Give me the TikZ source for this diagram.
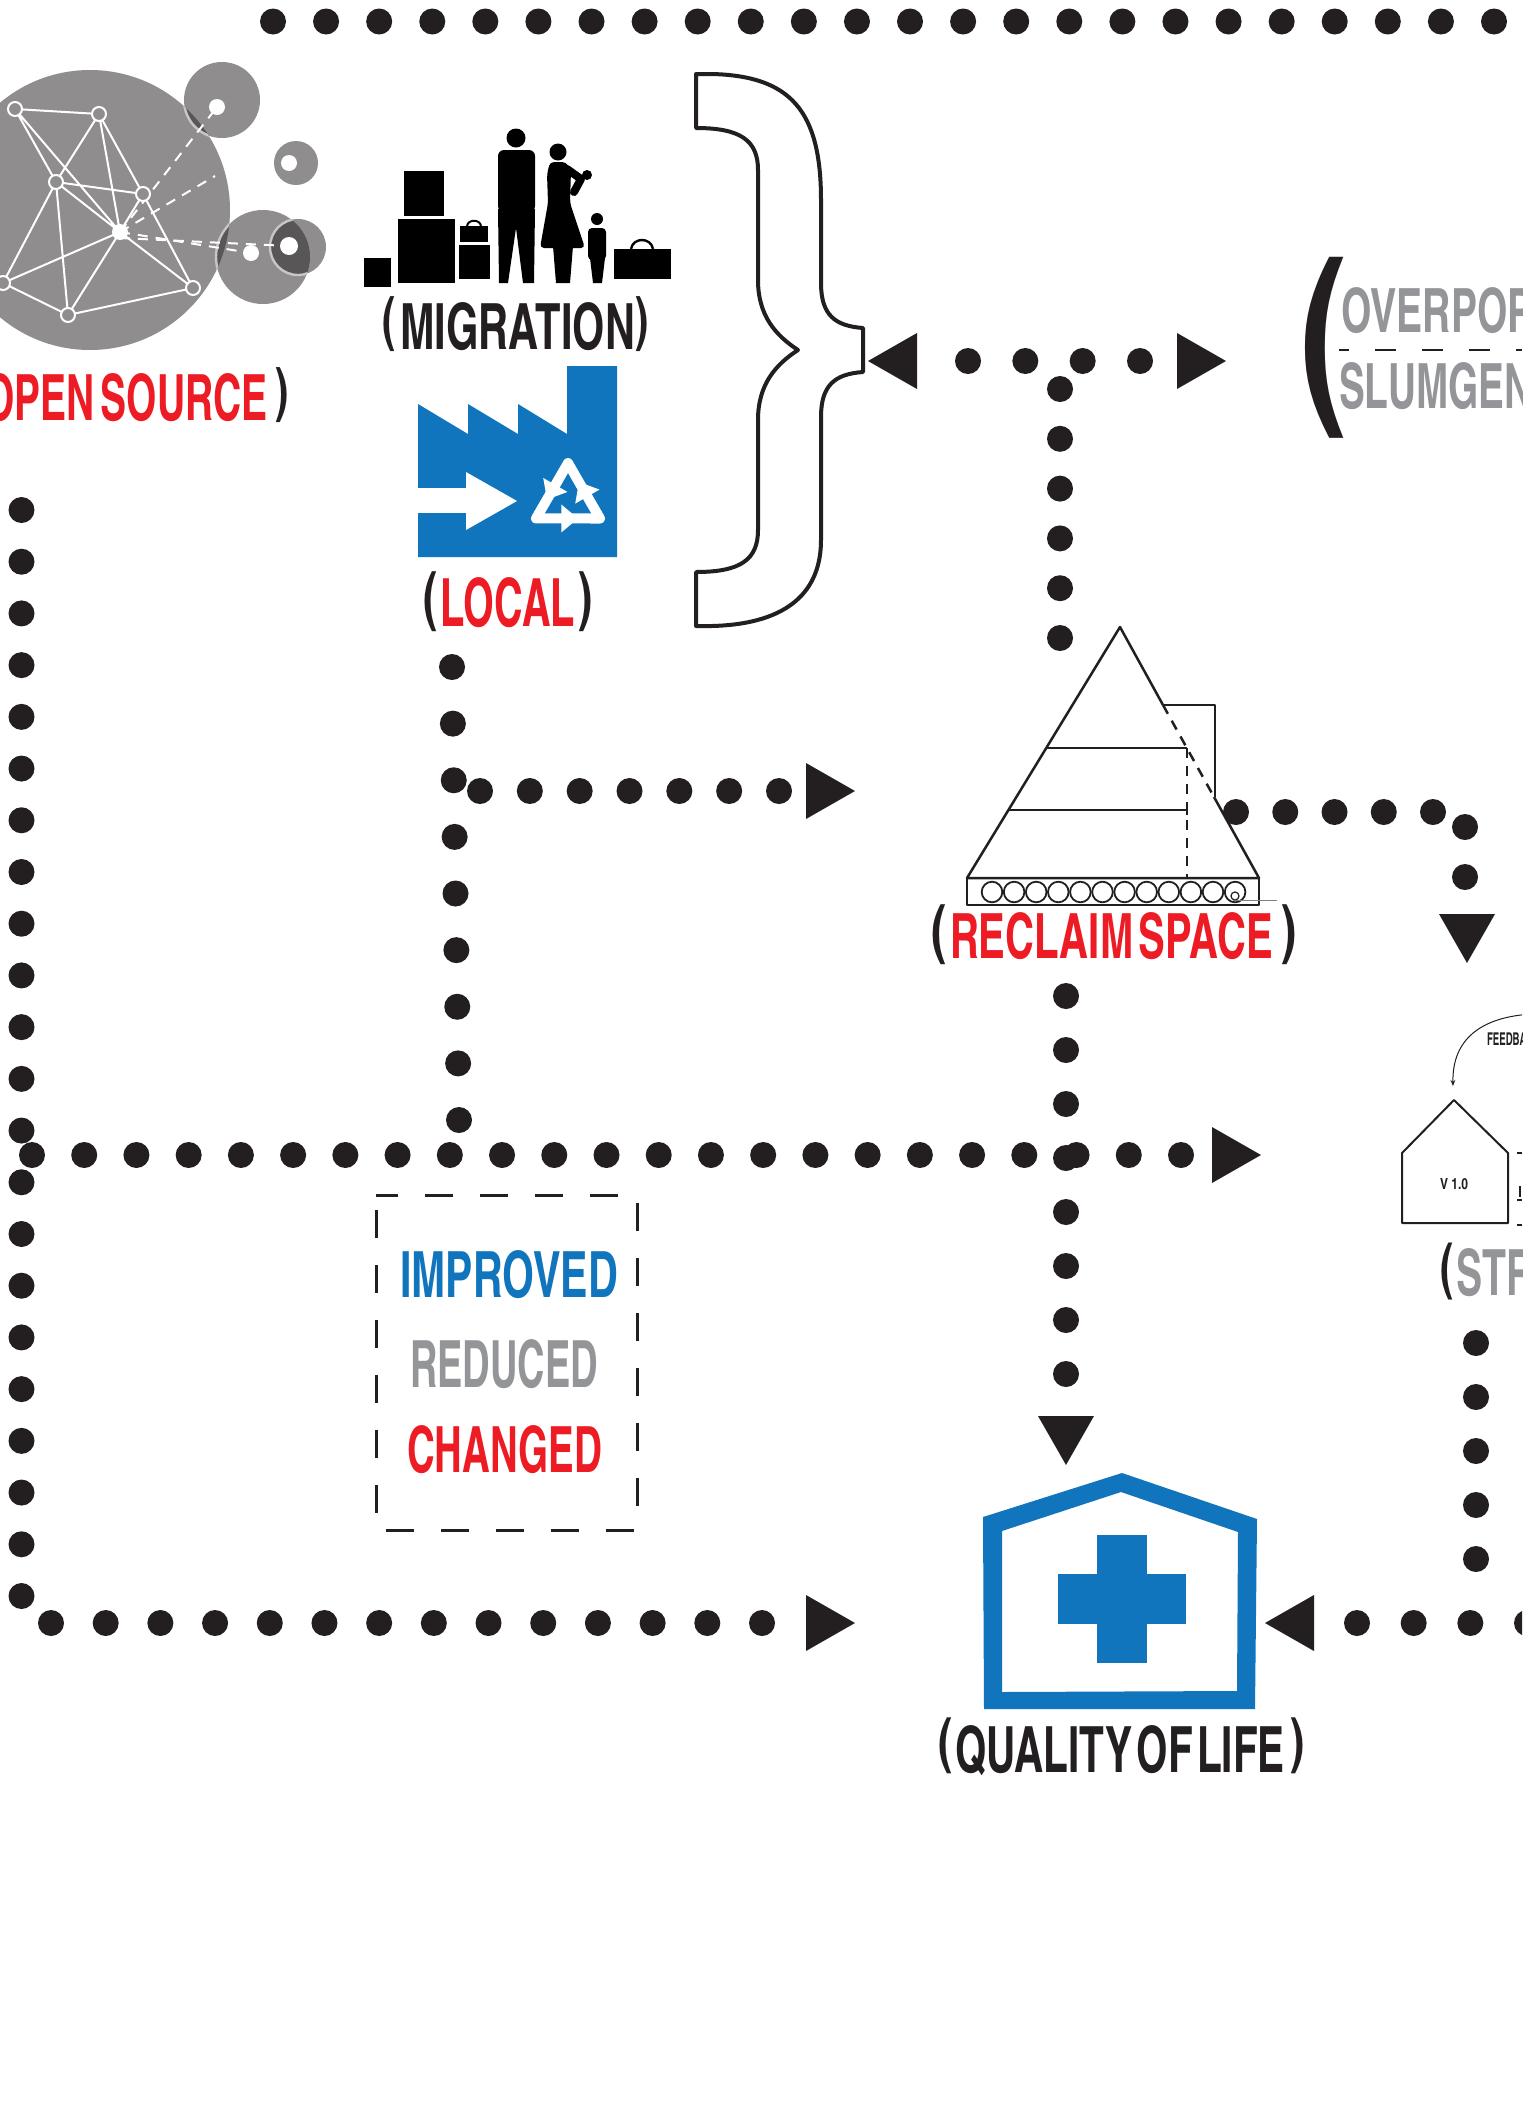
\documentclass[tikz,border=0pt]{standalone}
\usepackage{fontspec}
\usepackage{graphicx}
\usetikzlibrary{calc,arrows.meta}
\newfontfamily\cond{texgyreheroscn-bold.otf}
\definecolor{ink}{RGB}{35,31,32}
\definecolor{redA}{RGB}{237,28,36}
\definecolor{blueA}{RGB}{16,117,188}
\definecolor{greyA}{RGB}{147,149,152}
\definecolor{netgrey}{RGB}{143,141,142}
\definecolor{netdark}{RGB}{88,86,87}
\definecolor{netring}{RGB}{200,199,200}
\newlength\pxu \setlength\pxu{0.5pt}
% word scaled to a width and a cap height (in px)
\newcommand\fitw[3]{\resizebox{#1\pxu}{#2\pxu}{\cond #3}}
% glyph scaled to a width and a total height (in px)
\newcommand\fitp[3]{\resizebox*{#1\pxu}{#2\pxu}{\cond #3}}
% row of round dots between two named coordinates
\newcommand\dotchain[3]{\foreach \k in {0,...,#3}{\fill[ink] ($(#1)!\k/#3!(#2)$) circle (13);}}
% triangular arrow tips, given the tip point
\newcommand\tipR[1]{\fill[ink] (#1) -- ++(-49,-28) -- ++(0,56) -- cycle;}
\newcommand\tipL[1]{\fill[ink] (#1) -- ++(49,-28) -- ++(0,56) -- cycle;}
\newcommand\tipD[1]{\fill[ink] (#1) -- ++(-28,-49) -- ++(56,0) -- cycle;}
\tikzset{
  txt/.style={inner sep=0pt, outer sep=0pt},
  netline/.style={white, line width=1pt},
  netdash/.style={white, line width=1pt, dash pattern=on 5pt off 4pt},
  thinink/.style={ink, line width=1.25pt},
}
\begin{document}
\begin{tikzpicture}[x=0.5pt, y=-0.5pt, line join=round]
\useasboundingbox (0,0) rectangle (1522,2110);
\fill[white] (0,0) rectangle (1522,2110);
\clip (0,0) rectangle (1522,2110);

% ---------- open source network ----------
\coordinate (cBig) at (90,210);
\coordinate (cTR) at (222,100);
\coordinate (cMR) at (296,163);
\coordinate (cBR) at (263,257);
\coordinate (cBS) at (298,247);
\fill[netgrey] (cBig) circle (140);
\fill[netgrey] (cTR) circle (38);
\fill[netgrey] (cMR) circle (22);
\fill[netgrey] (cBR) circle (47);
\fill[netgrey] (cBS) circle (28);
\begin{scope}
  \clip (cBig) circle (140);
  \fill[netdark] (cTR) circle (38);
  \fill[netdark] (cBR) circle (47);
\end{scope}
\begin{scope}
  \clip (cBR) circle (47);
  \fill[netdark] (cBS) circle (28);
\end{scope}
\begin{scope}
  \clip (cBig) circle (140);
  \draw[netring, line width=1.2pt] (cTR) circle (38) (cBR) circle (47);
\end{scope}
\begin{scope}
  \clip (cBR) circle (47);
  \draw[netring, line width=1.2pt] (cBS) circle (28);
\end{scope}
\coordinate (nA) at (15,109);
\coordinate (nB) at (99,114);
\coordinate (nC) at (56,182);
\coordinate (nD) at (143,194);
\coordinate (nE) at (120,232);
\coordinate (nF) at (3,283);
\coordinate (nG) at (68,315);
\coordinate (nH) at (193,288);
\coordinate (dTop) at (217,107);
\coordinate (dMid) at (289,163);
\coordinate (dMidEnd) at (215,176);
\coordinate (dLow1) at (251,253);
\coordinate (dLow2) at (289,246);
\draw[netdash] (nE) -- (dTop);
\draw[netdash] (nE) -- (dMidEnd);
\draw[netdash] (nE) -- (dLow1);
\draw[netdash] ([yshift=-3]nE) -- (dLow2);
\draw[netline] (nA)--(nB) (nA)--(nC) (nA)--(nE) (nB)--(nC) (nB)--(nD) (nB)--(nE)
  (nC)--(nD) (nC)--(nE) (nC)--(nF) (nC)--(nG) (nD)--(nE) (nD)--(nH)
  (nE)--(nF) (nE)--(nG) (nE)--(nH) (nF)--(nG) (nG)--(nH);
\foreach \n in {nA,nB,nC,nD,nF,nG,nH}
  \filldraw[fill=netgrey, draw=white, line width=1pt] (\n) circle (7);
\fill[white] (nE) circle (8);
\fill[white] (dTop) circle (8);
\fill[white] (dMid) circle (8);
\fill[white] (dLow1) circle (8);
\fill[white] (dLow2) circle (9);

\node[txt, anchor=base west, text=redA] (lblOpen) at (-16,420) {\fitw{284}{47}{OPEN\kern.12em SOURCE}};
\node[txt, anchor=north west, text=ink] (pOpenR) at (275,368) {\fitp{13}{55}{)}};

% ---------- migration ----------
\begin{scope}[black]
\fill (364,258) rectangle (391,287);
\fill (404,171) rectangle (444,216);
\fill (398,219) rectangle (455,283);
\fill (460,226) rectangle (488,242);
\draw[line width=1pt] (467,226) .. controls (468,219) and (480,219) .. (481,226);
\fill (459,245) rectangle (490,279);
% man
\fill (516,138) circle (9.5);
\fill[rounded corners=3pt] (498,212) -- (498,150) -- (535,150) -- (535,212) -- cycle;
\fill (498,209) -- (535,209) -- (534,283) -- (523,283) -- (516,228) -- (508,283) -- (499,283) -- cycle;
% woman with baby
\fill (558,152) circle (8.5);
\fill[rounded corners=2pt] (547,174) -- (550,162) -- (566,162) -- (571,170) -- (570,203) -- (585,248) -- (540,248) -- (548,203) -- cycle;
\fill (553,246) -- (573,246) -- (570,283) -- (556,283) -- cycle;
\draw[line width=4pt, line cap=round] (567,169) -- (581,179) -- (574,192);
\fill (587,175) circle (5);
% child
\fill (597,219) circle (6);
\fill[rounded corners=2pt] (588,260) -- (588,228) -- (606,228) -- (606,260) -- cycle;
\fill (590,258) -- (605,258) -- (602,283) -- (593,283) -- cycle;
% briefcase
\fill (614,249) rectangle (671,279);
\draw[line width=1.2pt] (631,249) .. controls (633,237) and (651,237) .. (653,249);
\end{scope}
\node[txt, anchor=north west, text=ink] (pMigL) at (382,297) {\fitp{13}{55}{(}};
\node[txt, anchor=base west, text=ink] (lblMig) at (400,349) {\fitw{235}{47}{MIGRATION}};
\node[txt, anchor=north west, text=ink] (pMigR) at (635,297) {\fitp{13}{55}{)}};

% ---------- local factory ----------
\fill[blueA] (418,557) -- (418,404) -- (468,434) -- (468,404) -- (518,434) -- (518,404)
  -- (567,434) -- (567,366) -- (617,366) -- (617,557) -- cycle;
\fill[white] (418,488) rectangle (466,513);
\fill[white] (466,472) -- (517,501) -- (466,530) -- cycle;
\foreach \a in {0,120,240}{
  \begin{scope}[shift={(568,500)}, rotate=\a, scale=1.12]
    \draw[white, line width=5pt, line join=round] (-15.7,-5.8) -- (-28.6,16.5) -- (-5,16.5);
    \fill[white] (-6,4) -- (9,16.5) -- (-6,29) -- cycle;
  \end{scope}
}
\node[txt, anchor=north west, text=ink] (pLocL) at (423,572) {\fitp{14}{60}{(}};
\node[txt, anchor=base west, text=redA] (lblLocal) at (440,626) {\fitw{135}{49}{LOCAL}};
\node[txt, anchor=north west, text=ink] (pLocR) at (578,572) {\fitp{14}{60}{)}};

% ---------- brace ----------
\draw[ink, line width=2pt, fill=white]
  (696,74) -- (712,74) .. controls (790,76) and (821,110) .. (821,200) -- (821,283)
  .. controls (821,315) and (835,326) .. (863,328) -- (863,372)
  .. controls (835,374) and (821,385) .. (821,417) -- (821,540)
  .. controls (821,590) and (790,624) .. (712,626) -- (696,626) -- (696,572)
  .. controls (740,572) and (758,560) .. (758,530) -- (758,420)
  .. controls (758,385) and (775,365) .. (798,350)
  .. controls (775,335) and (758,315) .. (758,280) -- (758,170)
  .. controls (758,140) and (740,128) .. (696,128) -- cycle;

% ---------- overpopulation / slum ----------
\node[txt, anchor=north west, text=ink] (pOverL) at (1300,257) {\fitp{46}{181}{(}};
\node[txt, anchor=base west, text=greyA] (lblOver) at (1341,332) {\fitw{365}{45}{OVERPOPULATION}};
\draw[ink, line width=1.2pt, dash pattern=on 10.5pt off 13pt, dash phase=5.5pt] (1339,350) -- (1522,350);
\node[txt, anchor=base west, text=greyA] (lblSlum) at (1339,408) {\fitw{365}{46}{SLUMGENERATION}};

% ---------- reclaim space ----------
\coordinate (pyA) at (1120,627);
\coordinate (pyL) at (967,878);
\coordinate (pyR) at (1259,878);
\coordinate (pyK1) at (1163,705);
\coordinate (pyK2) at (1214,797);
\draw[thinink] (pyK1) -- (pyA) -- (pyL) -- (pyR) -- (pyK2);
\draw[thinink, dash pattern=on 5pt off 4pt] (pyK1) -- (pyK2);
\draw[thinink] (pyK1) -- (1215,705) -- (1215,797);
\draw[thinink] (1046,748) -- (1187,748);
\draw[thinink] (1008,810) -- (1187,810) (1187,805) -- (1187,815);
\draw[thinink, dash pattern=on 5pt off 4pt] (1187,748) -- (1187,877);
\draw[thinink] (967,878) rectangle (1259,905);
\foreach \i in {0,...,11} \draw[ink, line width=0.9pt] (992+22.1*\i,892) circle (10.3);
\draw[ink, line width=0.6pt] (1235,896) circle (4);
\draw[gray, line width=0.5pt] (1233,900) -- (1277,900);
\node[txt, anchor=north west, text=ink] (pRecL) at (931,905) {\fitp{15}{60}{(}};
\node[txt, anchor=base west, text=redA] (lblReclaim) at (950,958) {\fitw{323}{46}{RECLAIM\kern.1em SPACE}};
\node[txt, anchor=north west, text=ink] (pRecR) at (1281,905) {\fitp{15}{60}{)}};

% ---------- version house ----------
\draw[ink, line width=1pt] (1402,1153) -- (1454,1100) -- (1508,1153) -- (1508,1223) -- (1402,1223) -- cycle;
\node[txt, anchor=base west, text=ink] (lblVer) at (1440,1189) {\fitw{28}{11}{V 1.0}};
\coordinate (fbStart) at (1532,1014);
\coordinate (fbTip) at (1453,1086);
\draw[ink, line width=0.5pt, -{Stealth[length=3pt,width=2.4pt]}] (fbStart) .. controls (1480,1017) and (1452,1040) .. (fbTip);
\node[txt, anchor=base west, text=ink] (lblFeed) at (1487,1045) {\fitw{53}{13}{FEEDBACK}};
\draw[ink, line width=0.6pt] (1517,1153) -- (1522,1153) (1517,1200) -- (1522,1200) (1517,1225) -- (1522,1225) (1520,1186) -- (1520,1197);
\node[txt, anchor=north west, text=ink] (pStrL) at (1440,1243) {\fitp{13}{57}{(}};
\node[txt, anchor=base west, text=greyA] (lblStr) at (1456,1295) {\fitw{209}{47}{STRATEGY}};

% ---------- improved / reduced / changed ----------
\draw[ink, line width=1.5pt, dash pattern=on 14pt off 13.5pt, dash phase=20pt] (376,1195) rectangle (637,1530);
\node[txt, anchor=base west, text=blueA] (lblImp) at (400,1297) {\fitw{218}{47}{IMPROVED}};
\node[txt, anchor=base west, text=greyA] (lblRed) at (410,1387) {\fitw{188}{48}{REDUCED}};
\node[txt, anchor=base west, text=redA] (lblChg) at (407,1472) {\fitw{195}{47}{CHANGED}};

% ---------- quality of life ----------
\fill[blueA, even odd rule] (983,1517) -- (1122,1473) -- (1257,1519) -- (1255,1709) -- (984,1709) -- cycle
  (1002,1531) -- (1121,1492) -- (1238,1532) -- (1237,1691) -- (1002,1692) -- cycle;
\fill[blueA] (1097,1535) rectangle (1147,1663);
\fill[blueA] (1058,1574) rectangle (1186,1624);
\node[txt, anchor=north west, text=ink] (pQolL) at (938,1718) {\fitp{14}{56}{(}};
\node[txt, anchor=base west, text=ink] (lblQol) at (955,1772) {\fitw{330}{47}{QUALITY\kern.08em OF\kern.08em LIFE}};
\node[txt, anchor=north west, text=ink] (pQolR) at (1290,1718) {\fitp{14}{56}{)}};

% ---------- dotted connectors ----------
\coordinate (t0) at (273,21.5);   \coordinate (t1) at (1494,21.5);
\dotchain{t0}{t1}{23}
\coordinate (l0) at (21.5,510);   \coordinate (l1) at (21.5,1596);
\dotchain{l0}{l1}{21}
\coordinate (b0) at (51,1623);    \coordinate (b1) at (762,1623);   \coordinate (bTip) at (855,1623);
\dotchain{b0}{b1}{13} \tipR{bTip}
\coordinate (m0) at (32,1155);    \coordinate (m1) at (1181,1155);  \coordinate (mTip) at (1261,1155);
\dotchain{m0}{m1}{22} \tipR{mTip}
\coordinate (lc0) at (452,667);   \coordinate (lc1) at (459,1120);
\dotchain{lc0}{lc1}{8}
\coordinate (lr0) at (480,791);   \coordinate (lr1) at (779,791);   \coordinate (lrTip) at (855,791);
\dotchain{lr0}{lr1}{6} \tipR{lrTip}
\coordinate (tc0) at (968,361);   \coordinate (tc1) at (1140,361);
\coordinate (tcL) at (868,361);   \coordinate (tcR) at (1226,361);
\dotchain{tc0}{tc1}{3} \tipL{tcL} \tipR{tcR}
\coordinate (rt0) at (1060,389);  \coordinate (rt1) at (1060,638);
\dotchain{rt0}{rt1}{5}
\coordinate (rd0) at (1066,996);  \coordinate (rd1) at (1066,1374); \coordinate (rdTip) at (1066,1465);
\dotchain{rd0}{rd1}{7} \tipD{rdTip}
\coordinate (rr0) at (1236,812);  \coordinate (rr1) at (1433,812);
\dotchain{rr0}{rr1}{4}
\coordinate (rs0) at (1465,827);  \coordinate (rs1) at (1465,877);  \coordinate (rsTip) at (1467,963);
\dotchain{rs0}{rs1}{1} \tipD{rsTip}
\coordinate (rc0) at (1476,1343); \coordinate (rc1) at (1476,1559);
\dotchain{rc0}{rc1}{4}
\coordinate (br0) at (1357,1623); \coordinate (br1) at (1527,1623); \coordinate (brTip) at (1265,1623);
\dotchain{br0}{br1}{3} \tipL{brTip}
\end{tikzpicture}
\end{document}
